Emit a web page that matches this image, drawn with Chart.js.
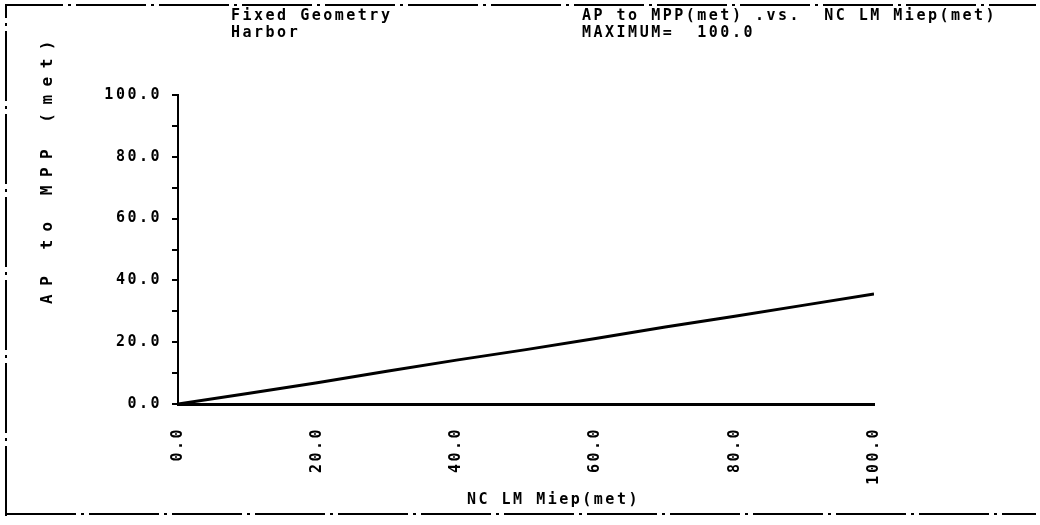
<!DOCTYPE html>
<html>
<head>
<meta charset="utf-8">
<script src="https://cdn.jsdelivr.net/npm/chart.js@4.4.1/dist/chart.umd.min.js"></script>
<style>
html, body { margin: 0; padding: 0; background: #fff; }
</style>
</head>
<body>
<canvas id="plot" width="1040" height="525"></canvas>
<script>
// ---- data ----
const xValues = [0, 10, 20, 30, 40, 50, 60, 70, 80, 90, 100];
const apToMpp = [0, 3.4, 6.9, 10.6, 14.2, 17.6, 21.2, 24.9, 28.4, 32.0, 35.6];
const xTickValues = [0, 20, 40, 60, 80, 100];
const yTickMarks = [0, 10, 20, 30, 40, 50, 60, 70, 80, 90, 100];
const yLabelValues = [0, 20, 40, 60, 80, 100];

const headerLeft = ['Fixed Geometry', 'Harbor'];
const headerRight = ['AP to MPP(met) .vs.  NC LM Miep(met)', 'MAXIMUM=  100.0'];
const xTitle = 'NC LM Miep(met)';
const yTitle = 'AP to MPP (met)';

const FONT = 'DejaVu Sans Mono';
const SPACING = '2.5px';

// page frame, header texts and axis titles
const decor = {
    id: 'decor',
    beforeUpdate(chart) { chart.ctx.letterSpacing = SPACING; },
    beforeDraw(chart) {
        const ctx = chart.ctx;
        ctx.save();
        ctx.fillStyle = '#fff';
        ctx.fillRect(0, 0, chart.width, chart.height);
        ctx.strokeStyle = '#000';
        ctx.lineWidth = 2;
        ctx.setLineDash([70, 5, 3, 5]);
        ctx.beginPath();
        ctx.moveTo(6, 516); ctx.lineTo(6, 5); ctx.lineTo(1036, 5);
        ctx.moveTo(6, 514); ctx.lineTo(1036, 514);
        ctx.stroke();
        ctx.restore();
        ctx.letterSpacing = SPACING;
    },
    afterDraw(chart) {
        const ctx = chart.ctx;
        ctx.save();
        ctx.fillStyle = '#000';
        ctx.font = 'bold 15px "' + FONT + '"';
        ctx.letterSpacing = SPACING;
        ctx.textBaseline = 'middle';
        ctx.textAlign = 'left';
        headerLeft.forEach((t, i) => ctx.fillText(t, 231, 16 + i * 17));
        headerRight.forEach((t, i) => ctx.fillText(t, 582, 16 + i * 17));
        ctx.fillText(xTitle, 467, 500);

        // y title, rotated
        ctx.translate(48, 168);
        ctx.rotate(-Math.PI / 2);
        ctx.font = 'bold 16px "' + FONT + '"';
        ctx.letterSpacing = '8.5px';
        ctx.textAlign = 'center';
        ctx.fillText(yTitle, 0, 0);
        ctx.restore();
        ctx.letterSpacing = SPACING;
    }
};

const tickFont = { family: FONT, size: 15, weight: 'bold' };

new Chart(document.getElementById('plot'), {
    type: 'line',
    data: {
        datasets: [{
            data: xValues.map((x, i) => ({ x: x, y: apToMpp[i] })),
            borderColor: '#000',
            borderWidth: 3,
            pointRadius: 0,
            tension: 0
        }]
    },
    options: {
        responsive: false,
        animation: false,
        devicePixelRatio: 1,
        layout: { padding: { top: 95, right: 166, left: 0, bottom: 0 } },
        plugins: { legend: { display: false }, tooltip: { enabled: false } },
        scales: {
            x: {
                type: 'linear',
                min: 0, max: 100,
                afterBuildTicks: s => { s.ticks = xTickValues.map(v => ({ value: v })); },
                afterFit: s => { s.height = 121; },
                ticks: {
                    color: '#000',
                    font: tickFont,
                    minRotation: 90, maxRotation: 90,
                    padding: 15,
                    callback: v => v.toFixed(1)
                },
                grid: { display: false },
                border: { color: '#000', width: 3 }
            },
            y: {
                min: 0, max: 100,
                afterBuildTicks: s => { s.ticks = yTickMarks.map(v => ({ value: v })); },
                afterFit: s => { s.width = 178; },
                ticks: {
                    color: '#000',
                    font: tickFont,
                    padding: 10,
                    callback: v => yLabelValues.includes(v) ? v.toFixed(1) : ''
                },
                grid: { drawOnChartArea: false, drawTicks: true, tickLength: 6, color: '#000', lineWidth: 2 },
                border: { color: '#000', width: 2 }
            }
        }
    },
    plugins: [decor]
});
</script>
</body>
</html>
